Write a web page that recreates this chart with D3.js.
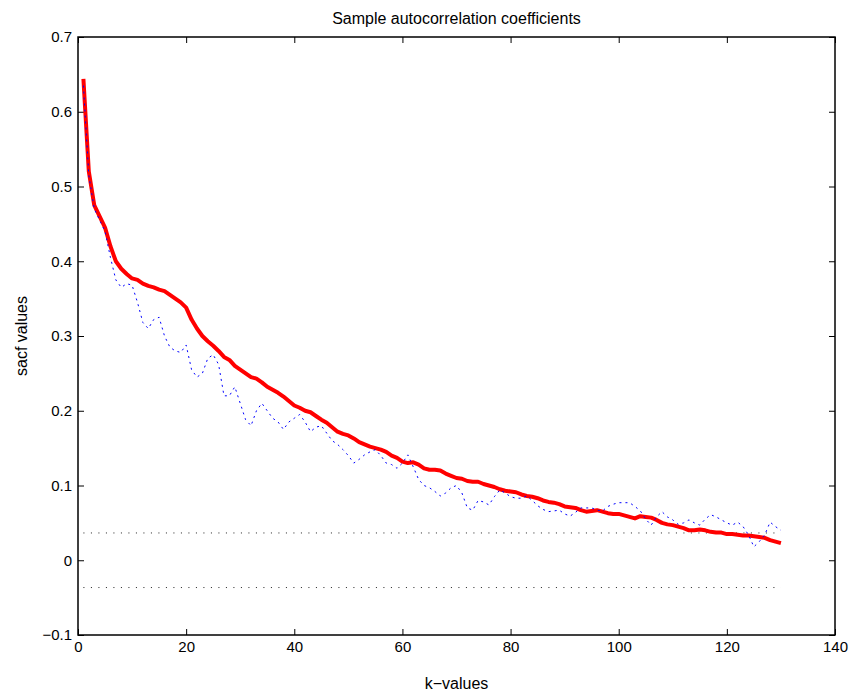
<!DOCTYPE html>
<html>
<head>
<meta charset="utf-8">
<script src="https://cdn.jsdelivr.net/npm/d3@7"></script>
<style>
  body { margin: 0; background: #fff; }
  svg { display: block; font-family: "Liberation Sans", Arial, Helvetica, sans-serif; }
</style>
</head>
<body>
<div id="chart"></div>
<script>
// ── data ─────────────────────────────────────────────────────────────
const lags = d3.range(1, 131);

// theoretical / fitted acf (red, thick)
const fitted = [
  0.644, 0.520, 0.475, 0.460, 0.445, 0.420, 0.400, 0.390, 0.383, 0.377,
  0.375, 0.370, 0.367, 0.365, 0.362, 0.360, 0.355, 0.350, 0.345, 0.338,
  0.322, 0.310, 0.300, 0.293, 0.287, 0.280, 0.272, 0.268, 0.260, 0.255,
  0.250, 0.245, 0.243, 0.238, 0.232, 0.228, 0.224, 0.219, 0.213, 0.207,
  0.204, 0.200, 0.198, 0.193, 0.188, 0.184, 0.178, 0.172, 0.169, 0.167,
  0.163, 0.158, 0.155, 0.152, 0.150, 0.148, 0.145, 0.140, 0.137, 0.132,
  0.130, 0.131, 0.128, 0.123, 0.121, 0.121, 0.120, 0.116, 0.113, 0.110,
  0.109, 0.106, 0.105, 0.105, 0.102, 0.100, 0.098, 0.095, 0.093, 0.092,
  0.091, 0.088, 0.086, 0.085, 0.083, 0.080, 0.078, 0.077, 0.075, 0.072,
  0.071, 0.070, 0.067, 0.065, 0.066, 0.067, 0.065, 0.063, 0.062, 0.062,
  0.060, 0.058, 0.056, 0.059, 0.058, 0.057, 0.054, 0.050, 0.048, 0.047,
  0.045, 0.043, 0.040, 0.040, 0.041, 0.040, 0.038, 0.037, 0.037, 0.035,
  0.035, 0.034, 0.033, 0.033, 0.032, 0.031, 0.030, 0.027, 0.025, 0.023
];

// sample acf (blue, dotted)
const sample = [
  0.635, 0.515, 0.470, 0.455, 0.440, 0.405, 0.375, 0.365, 0.370, 0.368,
  0.345, 0.318, 0.310, 0.322, 0.325, 0.300, 0.285, 0.280, 0.278, 0.288,
  0.255, 0.245, 0.250, 0.270, 0.275, 0.262, 0.220, 0.220, 0.232, 0.210,
  0.188, 0.180, 0.200, 0.210, 0.200, 0.190, 0.185, 0.175, 0.185, 0.190,
  0.195, 0.185, 0.172, 0.178, 0.180, 0.170, 0.160, 0.155, 0.148, 0.140,
  0.130, 0.135, 0.141, 0.145, 0.148, 0.140, 0.130, 0.128, 0.123, 0.130,
  0.141, 0.125, 0.108, 0.100, 0.097, 0.092, 0.086, 0.090, 0.097, 0.100,
  0.090, 0.070, 0.067, 0.080, 0.078, 0.074, 0.085, 0.094, 0.090, 0.085,
  0.083, 0.083, 0.086, 0.080, 0.073, 0.068, 0.065, 0.066, 0.067, 0.062,
  0.059, 0.064, 0.070, 0.070, 0.070, 0.067, 0.066, 0.072, 0.075, 0.077,
  0.077, 0.077, 0.072, 0.066, 0.055, 0.047, 0.058, 0.065, 0.058, 0.054,
  0.048, 0.050, 0.054, 0.050, 0.047, 0.055, 0.061, 0.058, 0.054, 0.050,
  0.047, 0.051, 0.045, 0.034, 0.018, 0.025, 0.034, 0.051, 0.045, 0.040
];

const bound = 0.0365;   // confidence band +/-
const xTicks = [0, 20, 40, 60, 80, 100, 120, 140];
const yTicks = [-0.1, 0, 0.1, 0.2, 0.3, 0.4, 0.5, 0.6, 0.7];

// ── svg setup ────────────────────────────────────────────────────────
const width = 853, height = 695;
const margin = { top: 37, right: 18, bottom: 60, left: 78 };

const svg = d3.select('#chart').append('svg')
  .attr('width', width)
  .attr('height', height);

const x = d3.scaleLinear().domain([0, 140]).range([margin.left, width - margin.right]);
const y = d3.scaleLinear().domain([-0.1, 0.7]).range([height - margin.bottom, margin.top]);

const fmt = v => (v < 0 ? '\u2212' : '') + d3.format('')(Math.abs(+v.toFixed(1)));

// ── axes (matlab style, ticks inward on all sides) ─────────────────
const tickLen = 6;
const axes = svg.append('g').attr('id', 'axes');

axes.append('g')
  .attr('transform', `translate(0,${y(-0.1)})`)
  .call(d3.axisBottom(x).tickValues(xTicks).tickSize(-tickLen).tickPadding(6).tickFormat(d => d))
  .call(g => g.select('.domain').remove());

axes.append('g')
  .attr('transform', `translate(0,${y(0.7)})`)
  .call(d3.axisTop(x).tickValues(xTicks).tickSize(-tickLen).tickFormat(''))
  .call(g => g.select('.domain').remove());

axes.append('g')
  .attr('transform', `translate(${x(0)},0)`)
  .call(d3.axisLeft(y).tickValues(yTicks).tickSize(-tickLen).tickPadding(6).tickFormat(fmt))
  .call(g => g.select('.domain').remove());

axes.append('g')
  .attr('transform', `translate(${x(140)},0)`)
  .call(d3.axisRight(y).tickValues(yTicks).tickSize(-tickLen).tickFormat(''))
  .call(g => g.select('.domain').remove());

axes.selectAll('.tick line').attr('stroke', '#000').attr('stroke-width', 1);
axes.selectAll('.tick text')
  .attr('fill', '#000')
  .style('font-size', '15px')
  .style('font-family', '"Liberation Sans", Arial, sans-serif');

// box
svg.append('rect')
  .attr('x', x(0)).attr('y', y(0.7))
  .attr('width', x(140) - x(0)).attr('height', y(-0.1) - y(0.7))
  .attr('fill', 'none')
  .attr('stroke', '#000')
  .attr('stroke-width', 1.5);

// ── confidence bounds ────────────────────────────────────────────────
const bounds = svg.append('g').attr('id', 'bounds');
[bound, -bound].forEach(b => {
  bounds.append('line')
    .attr('x1', x(lags[0])).attr('x2', x(lags[lags.length - 1]))
    .attr('y1', y(b)).attr('y2', y(b))
    .attr('stroke', '#222')
    .attr('stroke-width', 1)
    .attr('stroke-dasharray', '1,6.5');
});

// ── lines ────────────────────────────────────────────────────────────
const line = d3.line()
  .x((d, i) => x(lags[i]))
  .y(d => y(d));

svg.append('path')
  .datum(fitted)
  .attr('d', line)
  .attr('fill', 'none')
  .attr('stroke', '#ff0000')
  .attr('stroke-width', 4)
  .attr('stroke-linejoin', 'round');

svg.append('path')
  .datum(sample)
  .attr('d', line)
  .attr('fill', 'none')
  .attr('stroke', '#0000ff')
  .attr('stroke-width', 1)
  .attr('stroke-dasharray', '2,4');

// ── labels ───────────────────────────────────────────────────────────
const cx = (x(0) + x(140)) / 2;

svg.append('text')
  .attr('x', cx).attr('y', 24)
  .attr('text-anchor', 'middle')
  .style('font-size', '16px')
  .text('Sample autocorrelation coefficients');

svg.append('text')
  .attr('x', cx).attr('y', 689)
  .attr('text-anchor', 'middle')
  .style('font-size', '16px')
  .text('k\u2212values');

svg.append('text')
  .attr('transform', `translate(27,${(y(0.7) + y(-0.1)) / 2}) rotate(-90)`)
  .attr('text-anchor', 'middle')
  .style('font-size', '16px')
  .text('sacf values');
</script>
</body>
</html>
